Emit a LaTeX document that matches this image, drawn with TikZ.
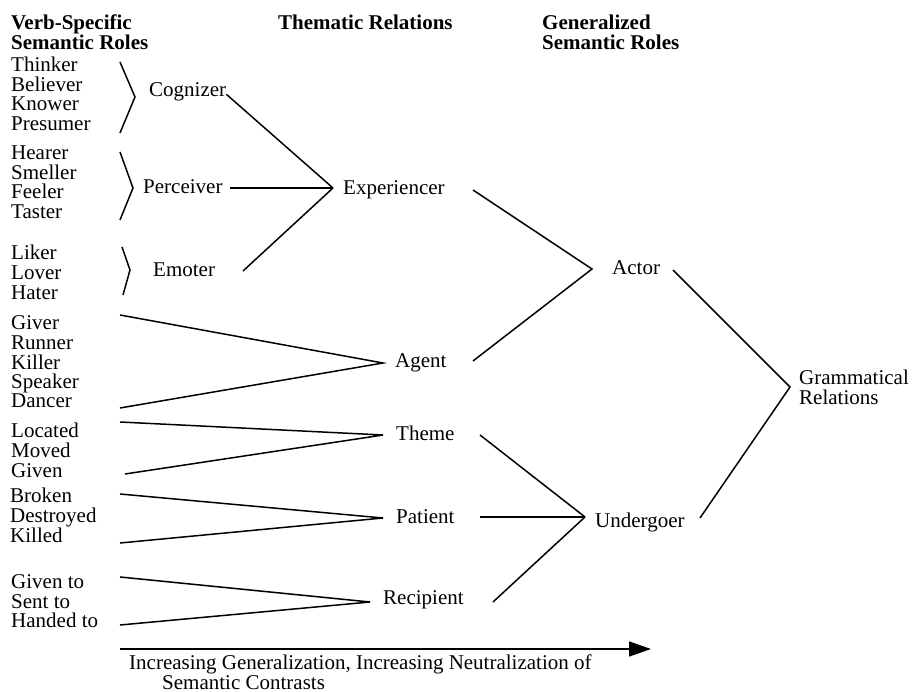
\documentclass[tikz,border=0pt]{standalone}
\usepackage{fontspec}
\setmainfont{Liberation Serif}
\usetikzlibrary{arrows.meta}
\tikzset{
  word/.style={inner sep=0pt, anchor=base west, font=\fontsize{21}{21}\selectfont},
  head/.style={inner sep=0pt, anchor=base west, font=\fontsize{21}{21}\selectfont\bfseries},
  conn/.style={line width=1.5pt, line join=miter},
}
\begin{document}
\begin{tikzpicture}[x=1pt,y=-1pt]
\useasboundingbox (0,0) rectangle (913,692);
% headers
\node[head] (h1a) at (11,30) {Verb-Specific};
\node[head] (h1b) at (11,50) {Semantic Roles};
\node[head] (h2) at (278,30) {Thematic Relations};
\node[head] (h3a) at (542,30) {Generalized};
\node[head] (h3b) at (542,50) {Semantic Roles};
% verb-specific roles
\foreach \n/\t/\x/\y in {
  thinker/Thinker/11/72, believer/Believer/11/92, knower/Knower/11/111, presumer/Presumer/11/131,
  hearer/Hearer/11/160, smeller/Smeller/11/180, feeler/Feeler/11/199, taster/Taster/11/219,
  liker/Liker/11/260, lover/Lover/11/280, hater/Hater/11/300,
  giver/Giver/11/330, runner/Runner/11/350, killer/Killer/11/370, speaker/Speaker/11/389, dancer/Dancer/11/408,
  located/Located/11/437, moved/Moved/11/457, given/Given/11/477,
  broken/Broken/10/502, destroyed/Destroyed/10/522, killed/Killed/10/542,
  givento/Given to/11/588, sentto/Sent to/11/608, handedto/Handed to/11/627}
  \node[word] (\n) at (\x,\y) {\t};
% thematic relations
\node[word] (cog) at (149,97) {Cognizer};
\node[word] (per) at (143,194) {Perceiver};
\node[word] (emo) at (153,277) {Emoter};
\node[word] (exp) at (343,195) {Experiencer};
\node[word] (agt) at (395,368) {Agent};
\node[word] (thm) at (396,440) {Theme};
\node[word] (pat) at (396,523) {Patient};
\node[word] (rec) at (383,604) {Recipient};
% generalized roles
\node[word] (act) at (612,275) {Actor};
\node[word] (und) at (595,527) {Undergoer};
\node[word] (gr1) at (799,385) {Grammatical};
\node[word] (gr2) at (799,405) {Relations};
% junction coordinates
\coordinate (jexp) at (333,188);
\coordinate (jag) at (383,363);
\coordinate (jth) at (383,435);
\coordinate (jpa) at (383,518);
\coordinate (jre) at (370,602);
\coordinate (jact) at (592,269);
\coordinate (jund) at (585,517);
\coordinate (jgr) at (790,387);
% brackets
\draw[conn] (120,62) -- (135,97) -- (120,133);
\draw[conn] (120,152) -- (133,188) -- (120,220);
\draw[conn] (122,247) -- (130,270) -- (123,295);
% to experiencer
\draw[conn] (cog.east) ++(0,2) coordinate (c1) (c1) -- (jexp);
\draw[conn] (230,188) -- (jexp);
\draw[conn] (243,271) -- (jexp);
% verb-specific to thematic
\draw[conn] (120,315) -- (jag) -- (120,408);
\draw[conn] (120,422) -- (jth) -- (125,474);
\draw[conn] (120,494) -- (jpa) -- (120,543);
\draw[conn] (120,577) -- (jre) -- (120,625);
% thematic to generalized
\draw[conn] (473,190) -- (jact) -- (473,361);
\draw[conn] (480,435) -- (jund);
\draw[conn] (480,517) -- (jund);
\draw[conn] (493,602) -- (jund);
% generalized to grammatical relations
\draw[conn] (673,270) -- (jgr) -- (700,518);
% bottom arrow
\coordinate (arrS) at (120,649);
\coordinate (arrE) at (651,649);
\draw[line width=1.5pt, -{Triangle[length=22pt,width=15pt]}] (arrS) -- (arrE);
\node[word] (cap1) at (129,669) {Increasing Generalization, Increasing Neutralization of};
\node[word] (cap2) at (162,689) {Semantic Contrasts};
\end{tikzpicture}
\end{document}
